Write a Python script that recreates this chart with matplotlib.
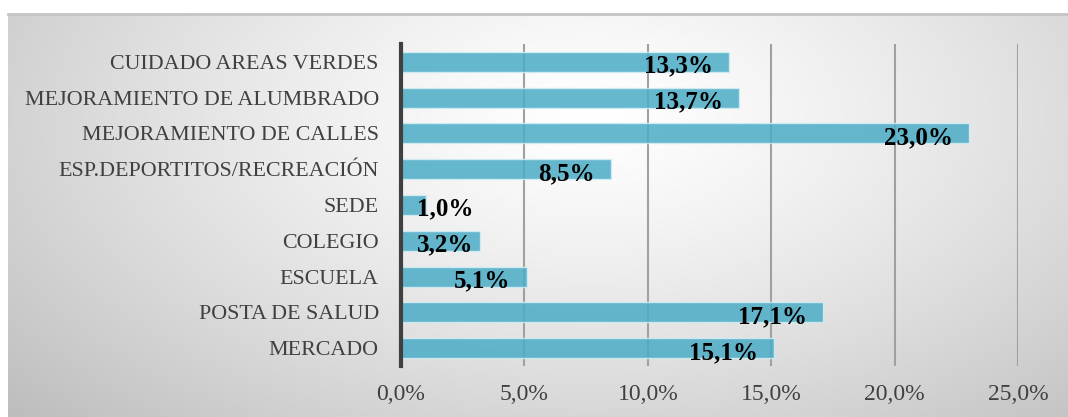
import matplotlib.pyplot as plt
import numpy as np

categorias = ['CUIDADO AREAS VERDES', 'MEJORAMIENTO DE ALUMBRADO',
              'MEJORAMIENTO DE CALLES', 'ESP.DEPORTITOS/RECREACIÓN',
              'SEDE', 'COLEGIO', 'ESCUELA', 'POSTA DE SALUD', 'MERCADO']
porcentajes = [13.3, 13.7, 23.0, 8.5, 1.0, 3.2, 5.1, 17.1, 15.1]
ticks_x = [0, 5, 10, 15, 20, 25]

SERIF = 'Liberation Serif'


def fmt(v):
    return '{:.1f}%'.format(v).replace('.', ',')


fig = plt.figure(figsize=(10.68, 4.17), dpi=100)
fig.patch.set_facecolor('white')

# fondo degradado del area del grafico
bg = fig.add_axes([8 / 1068, 0, 1 - 8 / 1068, 1 - 14 / 417], zorder=0)
nx, ny = 400, 160
gx, gy = np.meshgrid(np.linspace(0, 1, nx), np.linspace(0, 1, ny))
d = np.sqrt(((gx - 0.55) / 0.75) ** 2 + ((gy - 0.75) / 1.1) ** 2)
d = np.clip(d / d.max(), 0, 1)
shade = 1.0 - 0.26 * d ** 1.3
bg.imshow(np.dstack([shade] * 3), origin='lower', aspect='auto',
          extent=[0, 1, 0, 1], interpolation='bilinear')
bg.set_xlim(0, 1)
bg.set_ylim(0, 1)
bg.axis('off')
bg.plot([0, 1], [1, 1], color='#c4c4c4', lw=2, clip_on=False)

ax = fig.add_axes([401 / 1068, 1 - 366 / 417, (1018 - 401) / 1068,
                   (366 - 44) / 417], zorder=1)
ax.patch.set_alpha(0)

y_pos = np.arange(len(categorias))
bars = ax.barh(y_pos, porcentajes, height=0.56, color='#4bacc6', alpha=0.85,
               edgecolor='#d4eef5', linewidth=1, zorder=3)

ax.set_xlim(0, 25)
ax.set_ylim(len(categorias) - 0.5, -0.5)
ax.set_xticks(ticks_x)
ax.set_xticklabels([fmt(t) for t in ticks_x], fontfamily=SERIF, fontsize=17,
                   color='#404040')
ax.set_yticks(y_pos)
ax.set_yticklabels(categorias, fontfamily=SERIF, fontsize=15.8,
                   color='#404040')
ax.tick_params(axis='x', length=0, pad=13)
ax.tick_params(axis='y', length=0, pad=16)

for t in ticks_x[1:]:
    ax.axvline(t, color='#a0a0a0', lw=1.5, zorder=2)

for s in ['top', 'right', 'bottom']:
    ax.spines[s].set_visible(False)
ax.spines['left'].set_color('#404040')
ax.spines['left'].set_linewidth(3)
ax.spines['left'].set_zorder(4)

etiquetas = []
for yy, v in zip(y_pos, porcentajes):
    txt = ax.text(v - 0.65, yy + 0.12, fmt(v), ha='right', va='center',
                  fontfamily=SERIF, fontweight='bold', fontsize=18,
                  color='black', zorder=5)
    etiquetas.append(txt)

fig.canvas.draw()
inv = ax.transData.inverted()
for txt, yy in zip(etiquetas, y_pos):
    bb = txt.get_window_extent()
    left = inv.transform((bb.x0, bb.y0))[0]
    if left < 0.65:
        txt.set_ha('left')
        txt.set_x(0.65)

plt.savefig('out.png', dpi=100)
